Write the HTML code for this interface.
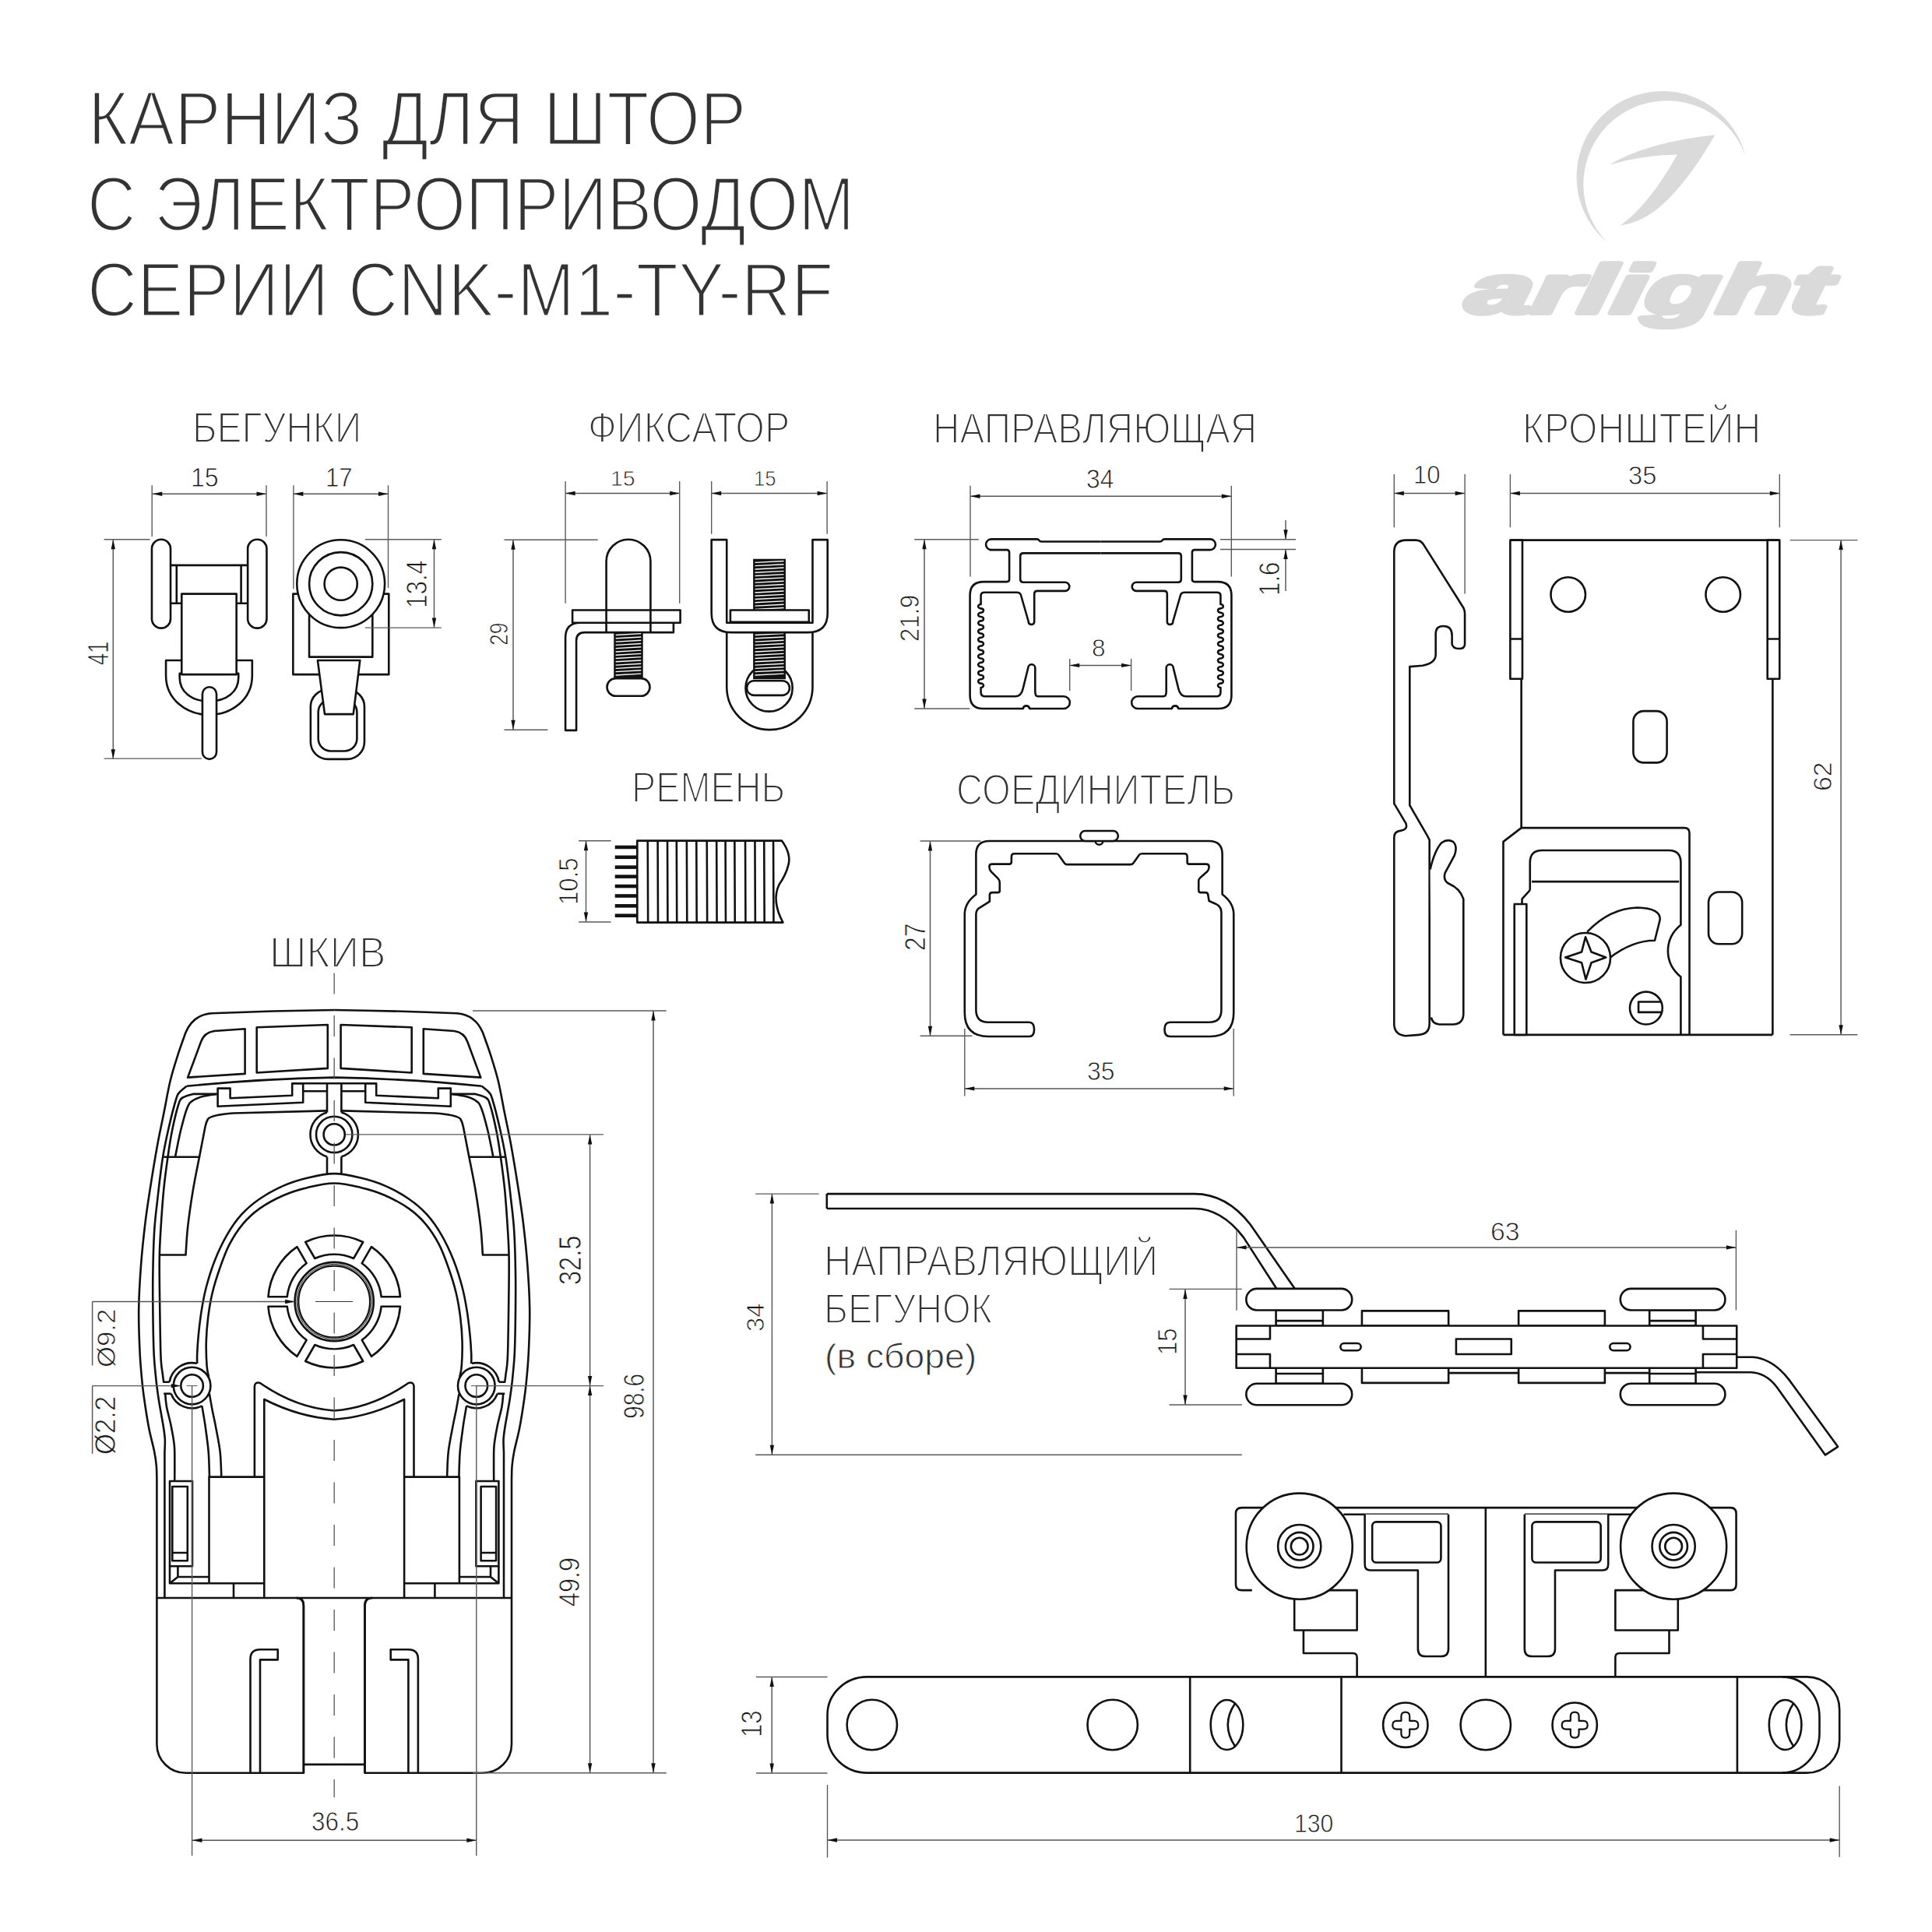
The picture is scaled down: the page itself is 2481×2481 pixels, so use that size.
<!DOCTYPE html>
<html><head><meta charset="utf-8"><title>CNK-M1-TY-RF</title>
<style>html,body{margin:0;padding:0;background:#fff;overflow:hidden;} svg{display:block;}</style></head>
<body><svg width="2481" height="2481" viewBox="0 0 2481 2481" font-family="Liberation Sans, sans-serif">
<rect width="2481" height="2481" fill="#fff"/>
<g transform="translate(100 500) scale(0.258770)">
<path stroke="#111" stroke-width="2.6" fill="none" stroke-linejoin="round" vector-effect="non-scaling-stroke" d="M460,873 L843,873 M460,1062 L515,1062 M787,1062 L843,1062 M490,873 L490,1062 M810,873 L810,1062"/>
<rect stroke="#111" stroke-width="2.6" fill="#fff" stroke-linejoin="round" vector-effect="non-scaling-stroke" x="367" y="745" width="93" height="440" rx="46"/>
<rect stroke="#111" stroke-width="2.6" fill="#fff" stroke-linejoin="round" vector-effect="non-scaling-stroke" x="843" y="745" width="94" height="440" rx="46"/>
<path stroke="#111" stroke-width="2.6" fill="#fff" stroke-linejoin="round" vector-effect="non-scaling-stroke" d="M515,1345 L437,1345 L437,1420 C437,1540 540,1615 651,1615 C762,1615 865,1540 865,1420 L865,1345 L787,1345 Z"/>
<path stroke="#111" stroke-width="2.6" fill="#fff" stroke-linejoin="round" vector-effect="non-scaling-stroke" d="M505,1410 L797,1410 L797,1430 C797,1500 740,1548 651,1548 C562,1548 505,1500 505,1430 Z"/>
<rect stroke="#111" stroke-width="2.6" fill="#fff" stroke-linejoin="round" vector-effect="non-scaling-stroke" x="515" y="1015" width="272" height="400"/>
<rect stroke="#111" stroke-width="2.6" fill="#fff" stroke-linejoin="round" vector-effect="non-scaling-stroke" x="618" y="1477" width="70" height="358" rx="35"/>
<rect stroke="#111" stroke-width="2.6" fill="#fff" stroke-linejoin="round" vector-effect="non-scaling-stroke" x="1068" y="1015" width="475" height="400"/>
<rect stroke="#111" stroke-width="2.6" fill="#fff" stroke-linejoin="round" vector-effect="non-scaling-stroke" x="1148" y="1110" width="314" height="218"/>
<circle stroke="#111" stroke-width="2.6" fill="#fff" stroke-linejoin="round" vector-effect="non-scaling-stroke" cx="1305" cy="965" r="218"/>
<circle stroke="#111" stroke-width="2.6" fill="none" stroke-linejoin="round" vector-effect="non-scaling-stroke" cx="1305" cy="965" r="157"/>
<circle stroke="#111" stroke-width="2.6" fill="none" stroke-linejoin="round" vector-effect="non-scaling-stroke" cx="1305" cy="965" r="81.5"/>
<rect stroke="#111" stroke-width="2.6" fill="#fff" stroke-linejoin="round" vector-effect="non-scaling-stroke" x="1155" y="1490" width="267" height="345" rx="85"/>
<rect stroke="#111" stroke-width="2.6" fill="#fff" stroke-linejoin="round" vector-effect="non-scaling-stroke" x="1193" y="1540" width="192" height="255" rx="62"/>
<path stroke="#111" stroke-width="2.6" fill="#fff" stroke-linejoin="round" vector-effect="non-scaling-stroke" d="M1190,1345 L1400,1345 L1367,1612 L1225,1612 Z"/>
</g>
<line x1="195.8" y1="634.3" x2="342" y2="634.3" stroke="#555" stroke-width="1.45"/>
<path d="M195.8,634.3 L208.3,631.6 L208.3,637 Z" fill="#111"/>
<path d="M342,634.3 L329.5,637 L329.5,631.6 Z" fill="#111"/>
<line x1="195.2" y1="623.2" x2="195.2" y2="688.9" stroke="#5a5a5a" stroke-width="1.4"/>
<line x1="342" y1="623.2" x2="342" y2="688.9" stroke="#5a5a5a" stroke-width="1.4"/>
<line x1="376.9" y1="634.3" x2="498.5" y2="634.3" stroke="#555" stroke-width="1.45"/>
<path d="M376.9,634.3 L389.4,631.6 L389.4,637 Z" fill="#111"/>
<path d="M498.5,634.3 L486,637 L486,631.6 Z" fill="#111"/>
<line x1="376.9" y1="623.2" x2="376.9" y2="756.2" stroke="#5a5a5a" stroke-width="1.4"/>
<line x1="498.5" y1="623.2" x2="498.5" y2="754.9" stroke="#5a5a5a" stroke-width="1.4"/>
<line x1="145.3" y1="692.8" x2="145.3" y2="974.8" stroke="#555" stroke-width="1.45"/>
<path d="M145.3,692.8 L148,705.3 L142.6,705.3 Z" fill="#111"/>
<path d="M145.3,974.8 L142.6,962.3 L148,962.3 Z" fill="#111"/>
<line x1="133.6" y1="692.8" x2="192.6" y2="692.8" stroke="#5a5a5a" stroke-width="1.4"/>
<line x1="133.6" y1="974.1" x2="259.1" y2="974.1" stroke="#5a5a5a" stroke-width="1.4"/>
<line x1="557.5" y1="692.8" x2="557.5" y2="806.1" stroke="#555" stroke-width="1.45"/>
<path d="M557.5,692.8 L560.2,705.3 L554.8,705.3 Z" fill="#111"/>
<path d="M557.5,806.1 L554.8,793.6 L560.2,793.6 Z" fill="#111"/>
<line x1="468.8" y1="692.8" x2="566.8" y2="692.8" stroke="#5a5a5a" stroke-width="1.4"/>
<line x1="468.8" y1="806.1" x2="566.8" y2="806.1" stroke="#5a5a5a" stroke-width="1.4"/>
<g transform="translate(500 500) scale(0.310559)">
<path stroke="#111" stroke-width="2.6" fill="#fff" stroke-linejoin="round" vector-effect="non-scaling-stroke" d="M728,1410 L773,1410 L773,1040 Q773,1005 808,1005 L1175,1005 L1175,965 L790,965 Q728,965 728,1027 Z"/>
<rect stroke="#111" stroke-width="2.6" fill="#fff" stroke-linejoin="round" vector-effect="non-scaling-stroke" x="757" y="913" width="446" height="52"/>
<path stroke="#111" stroke-width="2.6" fill="none" stroke-linejoin="round" vector-effect="non-scaling-stroke" d="M897,1005 L897,712 A91.5,91.5 0 0 1 1080,712 L1080,1005"/>
<rect stroke="#111" stroke-width="2.4" fill="#111" vector-effect="non-scaling-stroke" x="932" y="1005" width="113" height="190"/>
<path d="M936,1016.0 L1041,1010.0 M936,1029.8 L1041,1023.8 M936,1043.6 L1041,1037.6 M936,1057.4 L1041,1051.4 M936,1071.2 L1041,1065.2 M936,1085.0 L1041,1079.0 M936,1098.8 L1041,1092.8 M936,1112.6 L1041,1106.6 M936,1126.4 L1041,1120.4 M936,1140.2 L1041,1134.2 M936,1154.0 L1041,1148.0 M936,1167.8 L1041,1161.8 M936,1181.6 L1041,1175.6 " stroke="#fff" stroke-width="1.4" vector-effect="non-scaling-stroke" fill="none"/>
<rect stroke="#111" stroke-width="2.6" fill="#fff" stroke-linejoin="round" vector-effect="non-scaling-stroke" x="900" y="1195" width="177" height="73" rx="36"/>
<path stroke="#111" stroke-width="2.6" fill="#fff" stroke-linejoin="round" vector-effect="non-scaling-stroke" d="M1395,1005 L1395,1230 A177.5,177.5 0 0 0 1750,1230 L1750,1005"/>
<circle stroke="#111" stroke-width="2.6" fill="#fff" stroke-linejoin="round" vector-effect="non-scaling-stroke" cx="1570" cy="1235" r="97"/>
<rect stroke="#111" stroke-width="2.4" fill="#111" vector-effect="non-scaling-stroke" x="1508" y="1005" width="127" height="190"/>
<path d="M1512,1016.0 L1631,1010.0 M1512,1029.8 L1631,1023.8 M1512,1043.6 L1631,1037.6 M1512,1057.4 L1631,1051.4 M1512,1071.2 L1631,1065.2 M1512,1085.0 L1631,1079.0 M1512,1098.8 L1631,1092.8 M1512,1112.6 L1631,1106.6 M1512,1126.4 L1631,1120.4 M1512,1140.2 L1631,1134.2 M1512,1154.0 L1631,1148.0 M1512,1167.8 L1631,1161.8 M1512,1181.6 L1631,1175.6 " stroke="#fff" stroke-width="1.4" vector-effect="non-scaling-stroke" fill="none"/>
<rect stroke="#111" stroke-width="2.6" fill="#fff" stroke-linejoin="round" vector-effect="non-scaling-stroke" x="1478" y="1205" width="177" height="60" rx="30"/>
<path stroke="#111" stroke-width="2.6" fill="#fff" stroke-linejoin="round" vector-effect="non-scaling-stroke" d="M1332,622 L1395,622 L1395,965 L1750,965 L1750,622 L1812,622 L1812,925 Q1812,1005 1732,1005 L1412,1005 Q1332,1005 1332,925 Z"/>
<rect stroke="#111" stroke-width="2.4" fill="#111" vector-effect="non-scaling-stroke" x="1508" y="705" width="127" height="208"/>
<path d="M1512,716.0 L1631,710.0 M1512,729.8 L1631,723.8 M1512,743.6 L1631,737.6 M1512,757.4 L1631,751.4 M1512,771.2 L1631,765.2 M1512,785.0 L1631,779.0 M1512,798.8 L1631,792.8 M1512,812.6 L1631,806.6 M1512,826.4 L1631,820.4 M1512,840.2 L1631,834.2 M1512,854.0 L1631,848.0 M1512,867.8 L1631,861.8 M1512,881.6 L1631,875.6 M1512,895.4 L1631,889.4 M1512,909.2 L1631,903.2 " stroke="#fff" stroke-width="1.4" vector-effect="non-scaling-stroke" fill="none"/>
<rect stroke="#111" stroke-width="2.6" fill="#fff" stroke-linejoin="round" vector-effect="non-scaling-stroke" x="1410" y="913" width="325" height="49"/>
</g>
<line x1="726.1" y1="633.5" x2="872.7" y2="633.5" stroke="#555" stroke-width="1.45"/>
<path d="M726.1,633.5 L738.6,630.8 L738.6,636.2 Z" fill="#111"/>
<path d="M872.7,633.5 L860.2,636.2 L860.2,630.8 Z" fill="#111"/>
<line x1="726.1" y1="618" x2="726.1" y2="774.8" stroke="#5a5a5a" stroke-width="1.4"/>
<line x1="872.7" y1="618" x2="872.7" y2="774.8" stroke="#5a5a5a" stroke-width="1.4"/>
<line x1="913.7" y1="633.5" x2="1062.1" y2="633.5" stroke="#555" stroke-width="1.45"/>
<path d="M913.7,633.5 L926.2,630.8 L926.2,636.2 Z" fill="#111"/>
<path d="M1062.1,633.5 L1049.6,636.2 L1049.6,630.8 Z" fill="#111"/>
<line x1="913.7" y1="618" x2="913.7" y2="685.7" stroke="#5a5a5a" stroke-width="1.4"/>
<line x1="1062.1" y1="618" x2="1062.1" y2="685.7" stroke="#5a5a5a" stroke-width="1.4"/>
<line x1="659" y1="693.2" x2="659" y2="937.3" stroke="#555" stroke-width="1.45"/>
<path d="M659,693.2 L661.7,705.7 L656.3,705.7 Z" fill="#111"/>
<path d="M659,937.3 L656.3,924.8 L661.7,924.8 Z" fill="#111"/>
<line x1="647.5" y1="693.2" x2="767.7" y2="693.2" stroke="#5a5a5a" stroke-width="1.4"/>
<line x1="647.5" y1="937.3" x2="703.4" y2="937.3" stroke="#5a5a5a" stroke-width="1.4"/>
<path stroke="#111" stroke-width="2.6" fill="none" stroke-linejoin="round" d="M1413.5,695.5 L1337.5,695.5 Q1335.5,695.5 1334.5,694 Q1333.5,692.4 1331.5,692.4 L1272.9,692.4 A6.85,6.85 0 0 0 1272.9,706.1 L1293,706.1 Q1296.1,706.1 1296.1,709.5 L1296.1,744 Q1296.1,747.1 1293,747.1 L1263,747.1 Q1245.6,747.1 1245.6,764.5 L1245.6,893 Q1245.6,910 1262.6,910 L1313.7,910 A4.3,4.3 0 0 1 1322.2,910 L1366,910 A7.85,7.85 0 0 0 1366,894.3 L1333,894.3 Q1329.3,894.3 1329.3,888 L1329.3,858 A4.5,4.5 0 0 0 1320.3,857.5 L1313.7,884.3 Q1311.5,894.3 1303.7,894.3 L1265,894.3 Q1259.6,894.3 1259.6,889 L1259.6,883 a3.4,2.67 0 0 0 0,-5.35 a3.4,2.67 0 0 1 0,-5.35 a3.4,2.67 0 0 0 0,-5.35 a3.4,2.67 0 0 1 0,-5.35 a3.4,2.67 0 0 0 0,-5.35 a3.4,2.67 0 0 1 0,-5.35 a3.4,2.67 0 0 0 0,-5.35 a3.4,2.67 0 0 1 0,-5.35 a3.4,2.67 0 0 0 0,-5.35 a3.4,2.67 0 0 1 0,-5.35 a3.4,2.67 0 0 0 0,-5.35 a3.4,2.67 0 0 1 0,-5.35 a3.4,2.67 0 0 0 0,-5.35 a3.4,2.67 0 0 1 0,-5.35 a3.4,2.67 0 0 0 0,-5.35 a3.4,2.67 0 0 1 0,-5.35 a3.4,2.67 0 0 0 0,-5.35 a3.4,2.67 0 0 1 0,-5.35 a3.4,2.67 0 0 0 0,-5.35 a3.4,2.67 0 0 1 0,-5.35 L1259.6,765 Q1259.6,760.7 1264,760.7 L1306,760.7 Q1309.5,760.7 1310.8,763.5 L1320.7,798 A3.8,3.8 0 0 0 1328.2,799 L1328.2,763 Q1328.2,758.9 1332,758.9 L1367.7,758.9 A5.6,5.6 0 0 0 1367.7,747.7 L1314,747.7 Q1310.2,747.7 1310.2,744 L1310.2,714 Q1310.2,710.4 1314,710.4 L1413.5,710.4"/>
<path stroke="#111" stroke-width="2.6" fill="none" stroke-linejoin="round" transform="matrix(-1 0 0 1 2827 0)" d="M1413.5,695.5 L1337.5,695.5 Q1335.5,695.5 1334.5,694 Q1333.5,692.4 1331.5,692.4 L1272.9,692.4 A6.85,6.85 0 0 0 1272.9,706.1 L1293,706.1 Q1296.1,706.1 1296.1,709.5 L1296.1,744 Q1296.1,747.1 1293,747.1 L1263,747.1 Q1245.6,747.1 1245.6,764.5 L1245.6,893 Q1245.6,910 1262.6,910 L1313.7,910 A4.3,4.3 0 0 1 1322.2,910 L1366,910 A7.85,7.85 0 0 0 1366,894.3 L1333,894.3 Q1329.3,894.3 1329.3,888 L1329.3,858 A4.5,4.5 0 0 0 1320.3,857.5 L1313.7,884.3 Q1311.5,894.3 1303.7,894.3 L1265,894.3 Q1259.6,894.3 1259.6,889 L1259.6,883 a3.4,2.67 0 0 0 0,-5.35 a3.4,2.67 0 0 1 0,-5.35 a3.4,2.67 0 0 0 0,-5.35 a3.4,2.67 0 0 1 0,-5.35 a3.4,2.67 0 0 0 0,-5.35 a3.4,2.67 0 0 1 0,-5.35 a3.4,2.67 0 0 0 0,-5.35 a3.4,2.67 0 0 1 0,-5.35 a3.4,2.67 0 0 0 0,-5.35 a3.4,2.67 0 0 1 0,-5.35 a3.4,2.67 0 0 0 0,-5.35 a3.4,2.67 0 0 1 0,-5.35 a3.4,2.67 0 0 0 0,-5.35 a3.4,2.67 0 0 1 0,-5.35 a3.4,2.67 0 0 0 0,-5.35 a3.4,2.67 0 0 1 0,-5.35 a3.4,2.67 0 0 0 0,-5.35 a3.4,2.67 0 0 1 0,-5.35 a3.4,2.67 0 0 0 0,-5.35 a3.4,2.67 0 0 1 0,-5.35 L1259.6,765 Q1259.6,760.7 1264,760.7 L1306,760.7 Q1309.5,760.7 1310.8,763.5 L1320.7,798 A3.8,3.8 0 0 0 1328.2,799 L1328.2,763 Q1328.2,758.9 1332,758.9 L1367.7,758.9 A5.6,5.6 0 0 0 1367.7,747.7 L1314,747.7 Q1310.2,747.7 1310.2,744 L1310.2,714 Q1310.2,710.4 1314,710.4 L1413.5,710.4"/>
<line x1="1246" y1="637.2" x2="1581.3" y2="637.2" stroke="#555" stroke-width="1.45"/>
<path d="M1246,637.2 L1258.5,634.5 L1258.5,639.9 Z" fill="#111"/>
<path d="M1581.3,637.2 L1568.8,639.9 L1568.8,634.5 Z" fill="#111"/>
<line x1="1246" y1="623.8" x2="1246" y2="740.6" stroke="#5a5a5a" stroke-width="1.4"/>
<line x1="1581.3" y1="623.8" x2="1581.3" y2="740.6" stroke="#5a5a5a" stroke-width="1.4"/>
<line x1="1187" y1="692.7" x2="1187" y2="910" stroke="#555" stroke-width="1.45"/>
<path d="M1187,692.7 L1189.7,705.2 L1184.3,705.2 Z" fill="#111"/>
<path d="M1187,910 L1184.3,897.5 L1189.7,897.5 Z" fill="#111"/>
<line x1="1174.2" y1="692.7" x2="1256.8" y2="692.7" stroke="#5a5a5a" stroke-width="1.4"/>
<line x1="1174.2" y1="910" x2="1245.4" y2="910" stroke="#5a5a5a" stroke-width="1.4"/>
<line x1="1651" y1="668" x2="1651" y2="692.7" stroke="#555" stroke-width="1.45"/>
<path d="M1651,692.7 L1648.3,680.2 L1653.7,680.2 Z" fill="#111"/>
<line x1="1651" y1="705.5" x2="1651" y2="759" stroke="#555" stroke-width="1.45"/>
<path d="M1651,705.5 L1653.7,718 L1648.3,718 Z" fill="#111"/>
<line x1="1567" y1="692.7" x2="1664" y2="692.7" stroke="#5a5a5a" stroke-width="1.4"/>
<line x1="1567" y1="705.5" x2="1664" y2="705.5" stroke="#5a5a5a" stroke-width="1.4"/>
<line x1="1373.7" y1="854.4" x2="1452.6" y2="854.4" stroke="#555" stroke-width="1.45"/>
<path d="M1373.7,854.4 L1386.2,851.7 L1386.2,857.1 Z" fill="#111"/>
<path d="M1452.6,854.4 L1440.1,857.1 L1440.1,851.7 Z" fill="#111"/>
<line x1="1373.7" y1="846" x2="1373.7" y2="887" stroke="#5a5a5a" stroke-width="1.4"/>
<line x1="1452.6" y1="846" x2="1452.6" y2="887" stroke="#5a5a5a" stroke-width="1.4"/>
<g transform="translate(1760 500) scale(0.445135)">
<path stroke="#111" stroke-width="2.6" fill="#fff" stroke-linejoin="round" vector-effect="non-scaling-stroke" d="M68,470 Q68,435 103,435 L130,435 Q145,435 153,448 L268,630 Q272,638 272,648 L272,735 Q272,748 255,748 Q238,748 235,735 L235,710 Q235,683 210,683 Q188,683 188,705 L188,765 Q188,790 150,797 L113,800 L113,1200 L165,1290 L170,1300 L170,1830 Q170,1860 140,1862 L100,1865 Q68,1862 68,1830 L68,1292 Q68,1275 88,1273 Q108,1270 102,1252 L68,1195 Z"/>
<path stroke="#111" stroke-width="2.6" fill="#fff" stroke-linejoin="round" vector-effect="non-scaling-stroke" d="M172,1385 Q185,1330 205,1308 Q222,1296 238,1305 Q252,1318 242,1345 L215,1395 Q208,1418 228,1427 Q258,1440 268,1470 L268,1800 Q268,1830 240,1832 L198,1832 Q178,1830 175,1812"/>
<path stroke="#111" stroke-width="2.6" fill="none" stroke-linejoin="round" vector-effect="non-scaling-stroke" d="M403,435 L1180,435 M1160,835 L1160,1862 M435,835 L435,1265"/>
<rect stroke="#111" stroke-width="2.6" fill="#fff" stroke-linejoin="round" vector-effect="non-scaling-stroke" x="403" y="435" width="35" height="400"/>
<rect stroke="#111" stroke-width="2.6" fill="#fff" stroke-linejoin="round" vector-effect="non-scaling-stroke" x="1145" y="435" width="35" height="400"/>
<path stroke="#111" stroke-width="2.6" fill="none" stroke-linejoin="round" vector-effect="non-scaling-stroke" d="M403,720 L438,720 M1145,720 L1180,720"/>
<circle stroke="#111" stroke-width="2.6" fill="none" stroke-linejoin="round" vector-effect="non-scaling-stroke" cx="570" cy="592" r="50"/>
<circle stroke="#111" stroke-width="2.6" fill="none" stroke-linejoin="round" vector-effect="non-scaling-stroke" cx="1017" cy="592" r="50"/>
<rect stroke="#111" stroke-width="2.6" fill="none" stroke-linejoin="round" vector-effect="non-scaling-stroke" x="758" y="928" width="97" height="149" rx="30"/>
<rect stroke="#111" stroke-width="2.6" fill="none" stroke-linejoin="round" vector-effect="non-scaling-stroke" x="975" y="1450" width="97" height="150" rx="30"/>
<path stroke="#111" stroke-width="2.6" fill="none" stroke-linejoin="round" vector-effect="non-scaling-stroke" d="M383,1862 L383,1305 L435,1265 L905,1265 Q920,1265 920,1280 L920,1862 M383,1862 L1160,1862"/>
<path stroke="#111" stroke-width="2.6" fill="none" stroke-linejoin="round" vector-effect="non-scaling-stroke" d="M460,1445 L460,1365 Q460,1330 495,1330 L860,1330 Q895,1330 895,1365 L895,1545 Q858,1575 858,1620 Q858,1665 895,1695 L895,1862"/>
<path stroke="#111" stroke-width="2.6" fill="none" stroke-linejoin="round" vector-effect="non-scaling-stroke" d="M465,1420 L890,1420 M460,1445 L437,1470 L437,1485"/>
<rect stroke="#111" stroke-width="2.6" fill="#fff" stroke-linejoin="round" vector-effect="non-scaling-stroke" x="415" y="1485" width="35" height="377"/>
<path stroke="#111" stroke-width="2.6" fill="#fff" stroke-linejoin="round" vector-effect="non-scaling-stroke" d="M625,1565 Q690,1497 770,1495 Q838,1497 835,1530 L820,1590 Q755,1590 690,1640"/>
<circle stroke="#111" stroke-width="2.6" fill="#fff" stroke-linejoin="round" vector-effect="non-scaling-stroke" cx="620" cy="1640" r="72"/>
<path stroke="#111" stroke-width="2.6" fill="none" stroke-linejoin="round" vector-effect="non-scaling-stroke" d="M620,1580 L637,1623 L679,1639 L637,1654 L621,1702 L609,1654 L562,1639 L609,1623 Z"/>
<circle stroke="#111" stroke-width="2.6" fill="none" stroke-linejoin="round" vector-effect="non-scaling-stroke" cx="795" cy="1785" r="47"/>
<path stroke="#111" stroke-width="2.6" fill="none" stroke-linejoin="round" vector-effect="non-scaling-stroke" d="M838,1767 L773,1767 L773,1797 L838,1797"/>
</g>
<line x1="1790.3" y1="633.5" x2="1881.1" y2="633.5" stroke="#555" stroke-width="1.45"/>
<path d="M1790.3,633.5 L1802.8,630.8 L1802.8,636.2 Z" fill="#111"/>
<path d="M1881.1,633.5 L1868.6,636.2 L1868.6,630.8 Z" fill="#111"/>
<line x1="1790.3" y1="609" x2="1790.3" y2="677.2" stroke="#5a5a5a" stroke-width="1.4"/>
<line x1="1881.1" y1="609" x2="1881.1" y2="762.6" stroke="#5a5a5a" stroke-width="1.4"/>
<line x1="1939.4" y1="633.5" x2="2285.3" y2="633.5" stroke="#555" stroke-width="1.45"/>
<path d="M1939.4,633.5 L1951.9,630.8 L1951.9,636.2 Z" fill="#111"/>
<path d="M2285.3,633.5 L2272.8,636.2 L2272.8,630.8 Z" fill="#111"/>
<line x1="1939.4" y1="609" x2="1939.4" y2="677.2" stroke="#5a5a5a" stroke-width="1.4"/>
<line x1="2285.3" y1="609" x2="2285.3" y2="677.2" stroke="#5a5a5a" stroke-width="1.4"/>
<line x1="2364.1" y1="693.6" x2="2364.1" y2="1328.8" stroke="#555" stroke-width="1.45"/>
<path d="M2364.1,693.6 L2366.8,706.1 L2361.4,706.1 Z" fill="#111"/>
<path d="M2364.1,1328.8 L2361.4,1316.3 L2366.8,1316.3 Z" fill="#111"/>
<line x1="2298.6" y1="693.6" x2="2385.4" y2="693.6" stroke="#5a5a5a" stroke-width="1.4"/>
<line x1="2298.6" y1="1328.8" x2="2385.4" y2="1328.8" stroke="#5a5a5a" stroke-width="1.4"/>
<g transform="translate(680 960) scale(0.207039)">
<path stroke="#111" stroke-width="2.6" fill="none" stroke-linejoin="round" vector-effect="non-scaling-stroke" d="M668,578 L1565,578 Q1625,660 1605,730 Q1590,790 1548,850 Q1500,950 1572,1085 L668,1085 Z"/>
<path stroke="#111" stroke-width="2.6" fill="none" stroke-linejoin="round" vector-effect="non-scaling-stroke" d="M733,578 L735,1085 M795,578 L797,1085 M855,578 L857,1085 M912,578 L914,1085 M975,578 L977,1085 M1035,578 L1037,1085 M1100,578 L1102,1085 M1160,578 L1162,1085 M1215,578 L1217,1085 M1272,578 L1274,1085 M1338,578 L1340,1085 M1398,578 L1400,1085 M1455,578 L1457,1085 M1512,578 L1514,1085"/>
<rect x="530" y="607" width="138" height="22" fill="#111"/>
<rect x="530" y="669" width="138" height="22" fill="#111"/>
<rect x="530" y="731" width="138" height="22" fill="#111"/>
<rect x="530" y="789" width="138" height="22" fill="#111"/>
<rect x="530" y="849" width="138" height="22" fill="#111"/>
<rect x="530" y="909" width="138" height="22" fill="#111"/>
<rect x="530" y="971" width="138" height="22" fill="#111"/>
<rect x="530" y="1031" width="138" height="22" fill="#111"/>
</g>
<line x1="752.5" y1="1079.7" x2="752.5" y2="1184" stroke="#555" stroke-width="1.45"/>
<path d="M752.5,1079.7 L755.2,1092.2 L749.8,1092.2 Z" fill="#111"/>
<path d="M752.5,1184 L749.8,1171.5 L755.2,1171.5 Z" fill="#111"/>
<line x1="743.1" y1="1079.7" x2="784.6" y2="1079.7" stroke="#5a5a5a" stroke-width="1.4"/>
<line x1="743.1" y1="1184" x2="784.6" y2="1184" stroke="#5a5a5a" stroke-width="1.4"/>
<g transform="translate(1150 960) scale(0.243271)">
<path stroke="#111" stroke-width="2.6" fill="none" stroke-linejoin="round" vector-effect="non-scaling-stroke" d="M495,493 L1655,493 Q1725,493 1725,563 L1725,775 Q1785,820 1785,880 L1785,1400 Q1785,1525 1660,1525 L1450,1525 Q1420,1525 1420,1488 Q1420,1450 1450,1450 L1655,1450 Q1720,1450 1720,1385 L1720,870 Q1720,840 1690,825 L1655,810 L1650,780 Q1650,765 1635,765 L1610,765 Q1600,765 1600,750 L1600,705 Q1600,695 1610,685 L1645,655 Q1655,645 1655,630 Q1655,615 1640,615 L1550,615 Q1540,615 1540,605 L1540,575 Q1540,560 1525,560 L1300,560 Q1290,560 1285,568 L1255,610 Q1250,617 1240,617 L905,617 Q897,617 892,610 L862,568 Q857,560 847,560 L627,560 Q612,560 612,575 L612,603 Q612,615 600,615 L508,615 Q495,615 495,630 Q495,645 505,655 L540,690 Q550,700 550,712 L550,755 Q550,765 540,765 L510,765 Q497,765 497,778 L497,812 L440,848 Q425,860 425,880 L425,1385 Q425,1450 490,1450 L705,1450 Q732,1450 732,1488 Q732,1525 705,1525 L490,1525 Q365,1525 365,1400 L365,880 Q365,820 425,775 L425,563 Q425,493 495,493 Z"/>
<path stroke="#111" stroke-width="2.6" fill="#fff" stroke-linejoin="round" vector-effect="non-scaling-stroke" d="M1055,493 A20,20 0 0 0 1095,493"/>
<rect stroke="#111" stroke-width="2.6" fill="#fff" stroke-linejoin="round" vector-effect="non-scaling-stroke" x="975" y="440" width="200" height="53" rx="26"/>
</g>
<line x1="1194.5" y1="1080" x2="1194.5" y2="1330.3" stroke="#555" stroke-width="1.45"/>
<path d="M1194.5,1080 L1197.2,1092.5 L1191.8,1092.5 Z" fill="#111"/>
<path d="M1194.5,1330.3 L1191.8,1317.8 L1197.2,1317.8 Z" fill="#111"/>
<line x1="1181.6" y1="1080" x2="1259.5" y2="1080" stroke="#5a5a5a" stroke-width="1.4"/>
<line x1="1181.6" y1="1330.3" x2="1248.5" y2="1330.3" stroke="#5a5a5a" stroke-width="1.4"/>
<line x1="1238.8" y1="1397.9" x2="1584.2" y2="1397.9" stroke="#555" stroke-width="1.45"/>
<path d="M1238.8,1397.9 L1251.3,1395.2 L1251.3,1400.6 Z" fill="#111"/>
<path d="M1584.2,1397.9 L1571.7,1400.6 L1571.7,1395.2 Z" fill="#111"/>
<line x1="1238.8" y1="1321" x2="1238.8" y2="1407.6" stroke="#5a5a5a" stroke-width="1.4"/>
<line x1="1584.2" y1="1321" x2="1584.2" y2="1407.6" stroke="#5a5a5a" stroke-width="1.4"/>
<path stroke="#111" stroke-width="2.6" fill="none" stroke-linejoin="round" d="M429.2,1297 Q350,1298 271.8,1301.2 Q248,1303 238.3,1326.3  C236.67,1330.97 231.77,1344.05 228.5,1354.3 C225.23,1364.55 221.73,1375.22 218.7,1387.8 C215.67,1400.38 213.1,1415.82 210.3,1429.8 C207.5,1443.78 204.7,1456.33 201.9,1471.7 C199.1,1487.07 196.05,1505.7 193.5,1522 C190.95,1538.3 188.68,1552.27 186.6,1569.5 C184.52,1586.73 182.4,1606.77 181,1625.4 C179.6,1644.03 178.43,1662.67 178.2,1681.3 C177.97,1699.93 178.83,1721.2 179.6,1737.2 C180.37,1753.2 181.63,1765.8 182.8,1777.3 C183.97,1788.8 185.15,1796.55 186.6,1806.2 C188.05,1815.85 189.57,1825.53 191.5,1835.2 C193.43,1844.87 196.65,1856.4 198.2,1864.2 C199.75,1872 200.27,1876.03 200.8,1882 C201.33,1887.97 201.3,1897 201.4,1900 L201.4,2240 A37,37 0 0 0 238.4,2276.8 L389.9,2276.8 L389.9,2062 Q389.9,2052 381.6,2052"/>
<path stroke="#111" stroke-width="2.6" fill="none" stroke-linejoin="round" transform="matrix(-1 0 0 1 858.4 0)" d="M429.2,1297 Q350,1298 271.8,1301.2 Q248,1303 238.3,1326.3  C236.67,1330.97 231.77,1344.05 228.5,1354.3 C225.23,1364.55 221.73,1375.22 218.7,1387.8 C215.67,1400.38 213.1,1415.82 210.3,1429.8 C207.5,1443.78 204.7,1456.33 201.9,1471.7 C199.1,1487.07 196.05,1505.7 193.5,1522 C190.95,1538.3 188.68,1552.27 186.6,1569.5 C184.52,1586.73 182.4,1606.77 181,1625.4 C179.6,1644.03 178.43,1662.67 178.2,1681.3 C177.97,1699.93 178.83,1721.2 179.6,1737.2 C180.37,1753.2 181.63,1765.8 182.8,1777.3 C183.97,1788.8 185.15,1796.55 186.6,1806.2 C188.05,1815.85 189.57,1825.53 191.5,1835.2 C193.43,1844.87 196.65,1856.4 198.2,1864.2 C199.75,1872 200.27,1876.03 200.8,1882 C201.33,1887.97 201.3,1897 201.4,1900 L201.4,2240 A37,37 0 0 0 238.4,2276.8 L389.9,2276.8 L389.9,2062 Q389.9,2052 381.6,2052"/>
<path stroke="#111" stroke-width="2.6" fill="none" stroke-linejoin="round" d="M389.9,2265.9 L468.5,2265.9 M201.4,2052 L657,2052"/>
<path stroke="#111" stroke-width="2.6" fill="none" stroke-linejoin="round" d="M241.1,1383.6 L258,1338 Q262,1326 275,1324 L314.6,1321.3 L314.6,1378.9 Z"/>
<path stroke="#111" stroke-width="2.6" fill="none" stroke-linejoin="round" transform="matrix(-1 0 0 1 858.4 0)" d="M241.1,1383.6 L258,1338 Q262,1326 275,1324 L314.6,1321.3 L314.6,1378.9 Z"/>
<path stroke="#111" stroke-width="2.6" fill="none" stroke-linejoin="round" d="M329.7,1319.3 L420.8,1316 L420.8,1371.9 L329.7,1377.5 Z"/>
<path stroke="#111" stroke-width="2.6" fill="none" stroke-linejoin="round" transform="matrix(-1 0 0 1 858.4 0)" d="M329.7,1319.3 L420.8,1316 L420.8,1371.9 L329.7,1377.5 Z"/>
<path stroke="#111" stroke-width="2.6" fill="none" stroke-linejoin="round" d="M239.8,1394.8 Q330,1385.5 429.2,1383.6 Q528.4,1385.5 618.6,1394.8"/>
<path stroke="#111" stroke-width="2.6" fill="none" stroke-linejoin="round" d="M239.8,1394.8 C238.23,1396.15 232.65,1400.2 230.4,1402.9 C228.15,1405.6 228.55,1403.6 226.3,1411 C224.05,1418.4 219.82,1434.52 216.9,1447.3 C213.98,1460.08 211.27,1472 208.8,1487.7 C206.33,1503.4 203.88,1525.8 202.1,1541.5 C200.32,1557.2 199.07,1565.48 198.1,1581.9 C197.13,1598.32 196.55,1620.32 196.3,1640 C196.05,1659.68 196.37,1683.33 196.6,1700 C196.83,1716.67 197.03,1727.82 197.7,1740 C198.37,1752.18 199.57,1763.43 200.6,1773.1 C201.63,1782.77 202.42,1788.52 203.9,1798 C205.38,1807.48 208.18,1821.67 209.5,1830 C210.82,1838.33 211.48,1842.17 211.8,1848 C212.12,1853.83 211.47,1862.17 211.4,1865 L211.4,2052"/>
<path stroke="#111" stroke-width="2.6" fill="none" stroke-linejoin="round" transform="matrix(-1 0 0 1 858.4 0)" d="M239.8,1394.8 C238.23,1396.15 232.65,1400.2 230.4,1402.9 C228.15,1405.6 228.55,1403.6 226.3,1411 C224.05,1418.4 219.82,1434.52 216.9,1447.3 C213.98,1460.08 211.27,1472 208.8,1487.7 C206.33,1503.4 203.88,1525.8 202.1,1541.5 C200.32,1557.2 199.07,1565.48 198.1,1581.9 C197.13,1598.32 196.55,1620.32 196.3,1640 C196.05,1659.68 196.37,1683.33 196.6,1700 C196.83,1716.67 197.03,1727.82 197.7,1740 C198.37,1752.18 199.57,1763.43 200.6,1773.1 C201.63,1782.77 202.42,1788.52 203.9,1798 C205.38,1807.48 208.18,1821.67 209.5,1830 C210.82,1838.33 211.48,1842.17 211.8,1848 C212.12,1853.83 211.47,1862.17 211.4,1865 L211.4,2052"/>
<path stroke="#111" stroke-width="2.6" fill="none" stroke-linejoin="round" d="M278.8,1404.9 L247.9,1404.9  C245.65,1405.68 237.55,1407.25 234.4,1409.6 C231.25,1411.95 231.23,1411.93 229,1419 C226.77,1426.07 223.23,1441 221,1452 C218.77,1463 217.4,1472.32 215.6,1485 C213.8,1497.68 211.77,1511.95 210.2,1528.1 C208.63,1544.25 207.1,1567.42 206.2,1581.9 C205.3,1596.38 205,1601.98 204.8,1615 C204.6,1628.02 204.73,1639.17 205,1660 C205.27,1680.83 205.75,1722.53 206.4,1740 C207.05,1757.47 208.27,1759 208.9,1764.8 C209.53,1770.6 209.98,1773.13 210.2,1774.8 L217.6,1774.8"/>
<path stroke="#111" stroke-width="2.6" fill="none" stroke-linejoin="round" transform="matrix(-1 0 0 1 858.4 0)" d="M278.8,1404.9 L247.9,1404.9  C245.65,1405.68 237.55,1407.25 234.4,1409.6 C231.25,1411.95 231.23,1411.93 229,1419 C226.77,1426.07 223.23,1441 221,1452 C218.77,1463 217.4,1472.32 215.6,1485 C213.8,1497.68 211.77,1511.95 210.2,1528.1 C208.63,1544.25 207.1,1567.42 206.2,1581.9 C205.3,1596.38 205,1601.98 204.8,1615 C204.6,1628.02 204.73,1639.17 205,1660 C205.27,1680.83 205.75,1722.53 206.4,1740 C207.05,1757.47 208.27,1759 208.9,1764.8 C209.53,1770.6 209.98,1773.13 210.2,1774.8 L217.6,1774.8"/>
<path stroke="#111" stroke-width="2.6" fill="none" stroke-linejoin="round" d="M278,1405 C275.33,1405.43 267,1406.27 262,1407.6 C257,1408.93 251.58,1410.53 248,1413 C244.42,1415.47 243.17,1415.9 240.5,1422.4 C237.83,1428.9 234.58,1441.45 232,1452 C229.42,1462.55 226.17,1480.08 225,1485.7"/>
<path stroke="#111" stroke-width="2.6" fill="none" stroke-linejoin="round" transform="matrix(-1 0 0 1 858.4 0)" d="M278,1405 C275.33,1405.43 267,1406.27 262,1407.6 C257,1408.93 251.58,1410.53 248,1413 C244.42,1415.47 243.17,1415.9 240.5,1422.4 C237.83,1428.9 234.58,1441.45 232,1452 C229.42,1462.55 226.17,1480.08 225,1485.7"/>
<path stroke="#111" stroke-width="2.6" fill="none" stroke-linejoin="round" d="M210.2,1485.7 L256,1485.7  C254.65,1492.75 250.37,1513.08 247.9,1528 C245.43,1542.92 242.77,1561.28 241.2,1575.2 C239.63,1589.12 238.95,1605.45 238.5,1611.5 L205.5,1611.5"/>
<path stroke="#111" stroke-width="2.6" fill="none" stroke-linejoin="round" transform="matrix(-1 0 0 1 858.4 0)" d="M210.2,1485.7 L256,1485.7  C254.65,1492.75 250.37,1513.08 247.9,1528 C245.43,1542.92 242.77,1561.28 241.2,1575.2 C239.63,1589.12 238.95,1605.45 238.5,1611.5 L205.5,1611.5"/>
<path stroke="#111" stroke-width="2.6" fill="none" stroke-linejoin="round" d="M420,1426.4 L300,1429.5 Q272,1431.5 267,1437 Q264.7,1441 263.5,1447 L256,1485.7"/>
<path stroke="#111" stroke-width="2.6" fill="none" stroke-linejoin="round" transform="matrix(-1 0 0 1 858.4 0)" d="M420,1426.4 L300,1429.5 Q272,1431.5 267,1437 Q264.7,1441 263.5,1447 L256,1485.7"/>
<path stroke="#111" stroke-width="2.6" fill="none" stroke-linejoin="round" d="M279.6,1397.6 L295.6,1397.6 L295.6,1410.2 L375.2,1406.8 L375.2,1391.2 L389.2,1391.2 L389.2,1415.8 L279.6,1420.8 Z"/>
<path stroke="#111" stroke-width="2.6" fill="none" stroke-linejoin="round" transform="matrix(-1 0 0 1 858.4 0)" d="M279.6,1397.6 L295.6,1397.6 L295.6,1410.2 L375.2,1406.8 L375.2,1391.2 L389.2,1391.2 L389.2,1415.8 L279.6,1420.8 Z"/>
<path stroke="#111" stroke-width="2.6" fill="none" stroke-linejoin="round" d="M375.2,1391.2 L483.2,1391.2 M389.2,1401.2 L420,1401.2 M438.4,1401.2 L469.2,1401.2"/>
<path stroke="#111" stroke-width="2.6" fill="none" stroke-linejoin="round" d="M420,1391.2 L420,1428.5 M438.4,1391.2 L438.4,1428.5 M420,1485.5 L420,1507.5 M438.4,1485.5 L438.4,1507.5"/>
<path stroke="#111" stroke-width="2.6" fill="none" stroke-linejoin="round" d="M420,1428.5 A29.5,29.5 0 0 0 420,1485.3 M438.4,1428.5 A29.5,29.5 0 0 1 438.4,1485.3"/>
<circle stroke="#111" stroke-width="2.6" fill="none" stroke-linejoin="round" cx="429.2" cy="1456.9" r="23.2"/>
<circle stroke="#111" stroke-width="2.6" fill="none" stroke-linejoin="round" cx="429.2" cy="1456.9" r="13.6"/>
<path stroke="#111" stroke-width="2.6" fill="none" stroke-linejoin="round" d="M253.2,1750.9 C253.2,1748.82 252.93,1744.35 253.2,1738.4 C253.47,1732.45 253.9,1724.25 254.8,1715.2 C255.7,1706.15 256.93,1694.47 258.6,1684.1 C260.27,1673.73 261.95,1663.87 264.8,1653 C267.65,1642.13 271.3,1630.02 275.7,1618.9 C280.1,1607.78 285.5,1596.13 291.2,1586.3 C296.9,1576.47 302.9,1567.67 309.9,1559.9 C316.9,1552.13 324.15,1545.92 333.2,1539.7 C342.25,1533.48 353.85,1527.13 364.2,1522.6 C374.55,1518.07 384.47,1515.08 395.3,1512.5 C406.13,1509.92 417.9,1507.1 429.2,1507.1 C440.5,1507.1 452.27,1509.92 463.1,1512.5 C473.93,1515.08 483.85,1518.07 494.2,1522.6 C504.55,1527.13 516.15,1533.48 525.2,1539.7 C534.25,1545.92 541.5,1552.13 548.5,1559.9 C555.5,1567.67 561.5,1576.47 567.2,1586.3 C572.9,1596.13 578.3,1607.78 582.7,1618.9 C587.1,1630.02 590.75,1642.13 593.6,1653 C596.45,1663.87 598.13,1673.73 599.8,1684.1 C601.47,1694.47 602.7,1706.15 603.6,1715.2 C604.5,1724.25 604.93,1732.45 605.2,1738.4 C605.47,1744.35 605.2,1748.82 605.2,1750.9"/>
<path stroke="#111" stroke-width="2.6" fill="none" stroke-linejoin="round" d="M268.1,1768.2 C267.68,1765.83 266.15,1761.55 265.6,1754 C265.05,1746.45 264.53,1733.25 264.8,1722.9 C265.07,1712.55 265.9,1702.25 267.2,1691.9 C268.5,1681.55 270.15,1671.15 272.6,1660.8 C275.05,1650.45 278.28,1640.15 281.9,1629.8 C285.52,1619.45 289.38,1608.28 294.3,1598.7 C299.22,1589.12 304.92,1580.07 311.4,1572.3 C317.88,1564.53 324.4,1558.32 333.2,1552.1 C342,1545.88 353.85,1539.53 364.2,1535 C374.55,1530.47 384.47,1527.48 395.3,1524.9 C406.13,1522.32 417.9,1519.5 429.2,1519.5 C440.5,1519.5 452.27,1522.32 463.1,1524.9 C473.93,1527.48 483.85,1530.47 494.2,1535 C504.55,1539.53 516.4,1545.88 525.2,1552.1 C534,1558.32 540.52,1564.53 547,1572.3 C553.48,1580.07 559.18,1589.12 564.1,1598.7 C569.02,1608.28 572.88,1619.45 576.5,1629.8 C580.12,1640.15 583.35,1650.45 585.8,1660.8 C588.25,1671.15 589.9,1681.55 591.2,1691.9 C592.5,1702.25 593.33,1712.55 593.6,1722.9 C593.87,1733.25 593.35,1746.45 592.8,1754 C592.25,1761.55 590.72,1765.83 590.3,1768.2"/>
<path stroke="#111" stroke-width="2.6" fill="none" stroke-linejoin="round" d="M252.8,1750.8 A29.4,29.4 0 0 0 217.6,1774.8"/>
<path stroke="#111" stroke-width="2.6" fill="none" stroke-linejoin="round" transform="matrix(-1 0 0 1 858.4 0)" d="M252.8,1750.8 A29.4,29.4 0 0 0 217.6,1774.8"/>
<path stroke="#111" stroke-width="2.6" fill="none" stroke-linejoin="round" d="M219.7,1789.7 A28.7,28.7 0 0 0 259.4,1805.4"/>
<path stroke="#111" stroke-width="2.6" fill="none" stroke-linejoin="round" transform="matrix(-1 0 0 1 858.4 0)" d="M219.7,1789.7 A28.7,28.7 0 0 0 259.4,1805.4"/>
<path stroke="#111" stroke-width="2.6" fill="none" stroke-linejoin="round" d="M210.2,1789.7 L219.7,1789.7"/>
<path stroke="#111" stroke-width="2.6" fill="none" stroke-linejoin="round" transform="matrix(-1 0 0 1 858.4 0)" d="M210.2,1789.7 L219.7,1789.7"/>
<path stroke="#111" stroke-width="2.6" fill="none" stroke-linejoin="round" d="M259.4,1805.4 C259.75,1807.5 260.8,1813.72 261.5,1818 C262.2,1822.28 262.57,1823.4 263.6,1831.1 C264.63,1838.8 266.8,1853.28 267.7,1864.2 C268.6,1875.12 268.78,1891.2 269,1896.6"/>
<path stroke="#111" stroke-width="2.6" fill="none" stroke-linejoin="round" transform="matrix(-1 0 0 1 858.4 0)" d="M259.4,1805.4 C259.75,1807.5 260.8,1813.72 261.5,1818 C262.2,1822.28 262.57,1823.4 263.6,1831.1 C264.63,1838.8 266.8,1853.28 267.7,1864.2 C268.6,1875.12 268.78,1891.2 269,1896.6"/>
<path stroke="#111" stroke-width="2.6" fill="none" stroke-linejoin="round" d="M268.9,1789.7 C269.5,1793.08 271.18,1803.1 272.5,1810 C273.82,1816.9 275.12,1822.07 276.8,1831.1 C278.48,1840.13 281.35,1853.28 282.6,1864.2 C283.85,1875.12 284.02,1891.2 284.3,1896.6"/>
<path stroke="#111" stroke-width="2.6" fill="none" stroke-linejoin="round" transform="matrix(-1 0 0 1 858.4 0)" d="M268.9,1789.7 C269.5,1793.08 271.18,1803.1 272.5,1810 C273.82,1816.9 275.12,1822.07 276.8,1831.1 C278.48,1840.13 281.35,1853.28 282.6,1864.2 C283.85,1875.12 284.02,1891.2 284.3,1896.6"/>
<path stroke="#111" stroke-width="2.6" fill="none" stroke-linejoin="round" d="M212.2,1789.7 C212.48,1792.45 212.65,1799.3 213.9,1806.2 C215.15,1813.1 218.05,1822.82 219.7,1831.1 C221.35,1839.38 223.03,1847.75 223.8,1855.9 C224.57,1864.05 224.23,1872.32 224.3,1880 C224.37,1887.68 224.22,1898.33 224.2,1902"/>
<path stroke="#111" stroke-width="2.6" fill="none" stroke-linejoin="round" transform="matrix(-1 0 0 1 858.4 0)" d="M212.2,1789.7 C212.48,1792.45 212.65,1799.3 213.9,1806.2 C215.15,1813.1 218.05,1822.82 219.7,1831.1 C221.35,1839.38 223.03,1847.75 223.8,1855.9 C224.57,1864.05 224.23,1872.32 224.3,1880 C224.37,1887.68 224.22,1898.33 224.2,1902"/>
<circle stroke="#111" stroke-width="2.6" fill="#fff" stroke-linejoin="round" cx="246.6" cy="1779.6" r="23.8"/>
<circle stroke="#111" stroke-width="2.6" fill="none" stroke-linejoin="round" cx="246.6" cy="1779.6" r="14.3"/>
<line x1="239.6" y1="1779.6" x2="253.6" y2="1779.6" stroke="#555" stroke-width="1.0"/>
<circle stroke="#111" stroke-width="2.6" fill="#fff" stroke-linejoin="round" cx="611.8" cy="1779.6" r="23.8"/>
<circle stroke="#111" stroke-width="2.6" fill="none" stroke-linejoin="round" cx="611.8" cy="1779.6" r="14.3"/>
<line x1="604.8" y1="1779.6" x2="618.8" y2="1779.6" stroke="#555" stroke-width="1.0"/>
<path stroke="#111" stroke-width="2.6" fill="none" stroke-linejoin="round" d="M326.9,1896.6 L326.9,1781 Q327,1774 334,1776 Q380,1808 429.2,1811.5 Q478.4,1808 524.4,1776 Q531.5,1774 531.5,1781 L531.5,1896.6"/>
<path stroke="#111" stroke-width="2.6" fill="none" stroke-linejoin="round" d="M339.3,2052 L339.3,1797 Q385,1820 429.2,1822.7 Q473.4,1820 519.1,1797 L519.1,2052"/>
<path stroke="#111" stroke-width="2.6" fill="none" stroke-linejoin="round" d="M268.5,2033.3 L268.5,1896.6 L339.3,1896.6 M268.5,2033.3 L339.3,2033.3 M300,2033.3 L300,2052"/>
<path stroke="#111" stroke-width="2.6" fill="none" stroke-linejoin="round" transform="matrix(-1 0 0 1 858.4 0)" d="M268.5,2033.3 L268.5,1896.6 L339.3,1896.6 M268.5,2033.3 L339.3,2033.3 M300,2033.3 L300,2052"/>
<path stroke="#111" stroke-width="2.6" fill="none" stroke-linejoin="round" d="M218,2011.3 L218,1902 L247,1902 L247,2011.3 Z M221.3,1909 L240.8,1909 L240.8,2004.3 L221.3,2004.3 Z M221.3,1994 L240.8,1994"/>
<path stroke="#111" stroke-width="2.6" fill="none" stroke-linejoin="round" transform="matrix(-1 0 0 1 858.4 0)" d="M218,2011.3 L218,1902 L247,1902 L247,2011.3 Z M221.3,1909 L240.8,1909 L240.8,2004.3 L221.3,2004.3 Z M221.3,1994 L240.8,1994"/>
<path stroke="#111" stroke-width="2.6" fill="none" stroke-linejoin="round" d="M218,2011.3 L218,2033.3 L268.5,2033.3 M228.4,2011.3 L228.4,2025 L268.5,2025 M218,2033.3 L228.4,2025"/>
<path stroke="#111" stroke-width="2.6" fill="none" stroke-linejoin="round" transform="matrix(-1 0 0 1 858.4 0)" d="M218,2011.3 L218,2033.3 L268.5,2033.3 M228.4,2011.3 L228.4,2025 L268.5,2025 M218,2033.3 L228.4,2025"/>
<path stroke="#111" stroke-width="2.6" fill="none" stroke-linejoin="round" d="M389.9,2276.8 L389.9,2062 Q389.9,2052 380,2052"/>
<path stroke="#111" stroke-width="2.6" fill="none" stroke-linejoin="round" transform="matrix(-1 0 0 1 858.4 0)" d="M389.9,2276.8 L389.9,2062 Q389.9,2052 380,2052"/>
<path stroke="#111" stroke-width="2.6" fill="none" stroke-linejoin="round" d="M321.5,2276.8 L321.5,2130.6 Q321.5,2118.2 334,2118.2 L356.7,2118.2 L356.7,2131.4 L334,2131.4 L334,2276.8"/>
<path stroke="#111" stroke-width="2.6" fill="none" stroke-linejoin="round" transform="matrix(-1 0 0 1 858.4 0)" d="M321.5,2276.8 L321.5,2130.6 Q321.5,2118.2 334,2118.2 L356.7,2118.2 L356.7,2131.4 L334,2131.4 L334,2276.8"/>
<path stroke="#111" stroke-width="2.6" fill="none" stroke-linejoin="round" d="M513.97,1677.69 A85,85 0 0 1 476.95,1741.82 L464.80,1720.79 A60.8,60.8 0 0 0 489.68,1677.69 Z"/>
<path stroke="#111" stroke-width="2.6" fill="none" stroke-linejoin="round" d="M466.22,1748.01 A85,85 0 0 1 392.18,1748.01 L404.32,1726.98 A60.8,60.8 0 0 0 454.08,1726.98 Z"/>
<path stroke="#111" stroke-width="2.6" fill="none" stroke-linejoin="round" d="M381.45,1741.82 A85,85 0 0 1 344.43,1677.69 L368.72,1677.69 A60.8,60.8 0 0 0 393.60,1720.79 Z"/>
<path stroke="#111" stroke-width="2.6" fill="none" stroke-linejoin="round" d="M344.43,1665.31 A85,85 0 0 1 381.45,1601.18 L393.60,1622.21 A60.8,60.8 0 0 0 368.72,1665.31 Z"/>
<path stroke="#111" stroke-width="2.6" fill="none" stroke-linejoin="round" d="M392.18,1594.99 A85,85 0 0 1 466.22,1594.99 L454.08,1616.02 A60.8,60.8 0 0 0 404.32,1616.02 Z"/>
<path stroke="#111" stroke-width="2.6" fill="none" stroke-linejoin="round" d="M476.95,1601.18 A85,85 0 0 1 513.97,1665.31 L489.68,1665.31 A60.8,60.8 0 0 0 464.80,1622.21 Z"/>
<circle stroke="#111" stroke-width="2.6" fill="none" stroke-linejoin="round" cx="429.2" cy="1671.5" r="50.6"/>
<circle stroke="#111" stroke-width="1.0" fill="none" cx="429.2" cy="1671.5" r="48.2"/>
<circle stroke="#111" stroke-width="2.2" fill="none" cx="429.2" cy="1671.5" r="45.9"/>
<line x1="429.2" y1="1249.6" x2="429.2" y2="2308" stroke="#555" stroke-width="1.3" stroke-dasharray="26.8 27.7"/>
<line x1="405" y1="1671.5" x2="453" y2="1671.5" stroke="#333" stroke-width="1.0"/>
<line x1="118.6" y1="1671.5" x2="378.6" y2="1671.5" stroke="#555" stroke-width="1.45"/>
<path d="M378.6,1671.5 L366.1,1674.2 L366.1,1668.8 Z" fill="#111"/>
<line x1="118.6" y1="1671.5" x2="118.6" y2="1753.5" stroke="#555" stroke-width="1.45"/>
<line x1="118.6" y1="1779.6" x2="232.3" y2="1779.6" stroke="#555" stroke-width="1.45"/>
<path d="M232.3,1779.6 L219.8,1782.3 L219.8,1776.9 Z" fill="#111"/>
<line x1="118.6" y1="1779.6" x2="118.6" y2="1866.8" stroke="#555" stroke-width="1.45"/>
<line x1="757.6" y1="1456.9" x2="757.6" y2="1779.6" stroke="#555" stroke-width="1.45"/>
<path d="M757.6,1456.9 L760.3,1469.4 L754.9,1469.4 Z" fill="#111"/>
<path d="M757.6,1779.6 L754.9,1767.1 L760.3,1767.1 Z" fill="#111"/>
<line x1="444" y1="1456.9" x2="775" y2="1456.9" stroke="#5a5a5a" stroke-width="1.4"/>
<line x1="612" y1="1779.6" x2="775" y2="1779.6" stroke="#5a5a5a" stroke-width="1.4"/>
<line x1="757.6" y1="1779.6" x2="757.6" y2="2276.8" stroke="#555" stroke-width="1.45"/>
<path d="M757.6,1779.6 L760.3,1792.1 L754.9,1792.1 Z" fill="#111"/>
<path d="M757.6,2276.8 L754.9,2264.3 L760.3,2264.3 Z" fill="#111"/>
<line x1="607.3" y1="2276.8" x2="855.7" y2="2276.8" stroke="#5a5a5a" stroke-width="1.4"/>
<line x1="839" y1="1298" x2="839" y2="2276.8" stroke="#555" stroke-width="1.45"/>
<path d="M839,1298 L841.7,1310.5 L836.3,1310.5 Z" fill="#111"/>
<path d="M839,2276.8 L836.3,2264.3 L841.7,2264.3 Z" fill="#111"/>
<line x1="607" y1="1298" x2="855.7" y2="1298" stroke="#5a5a5a" stroke-width="1.4"/>
<line x1="247" y1="2363.3" x2="611.8" y2="2363.3" stroke="#555" stroke-width="1.45"/>
<path d="M247,2363.3 L259.5,2360.6 L259.5,2366 Z" fill="#111"/>
<path d="M611.8,2363.3 L599.3,2366 L599.3,2360.6 Z" fill="#111"/>
<line x1="246.6" y1="1779.6" x2="246.6" y2="2383" stroke="#5a5a5a" stroke-width="1.4"/>
<line x1="611.8" y1="1779.6" x2="611.8" y2="2383" stroke="#5a5a5a" stroke-width="1.4"/>
<path stroke="#111" stroke-width="2.6" fill="none" stroke-linejoin="round" d="M1061.8,1533.1 L1534,1533.1 C1560,1533.1 1585,1546 1605.5,1572.2 L1662.8,1655 M1061.8,1552 L1534,1552 C1555,1552 1577,1563 1597,1589.1 L1639.4,1655 M1061.8,1533.1 L1061.8,1552"/>
<g transform="translate(1580 1500) scale(0.424431)">
<path stroke="#111" stroke-width="2.6" fill="none" stroke-linejoin="round" vector-effect="non-scaling-stroke" d="M1532,572 L1580,572 Q1640,576 1690,640 L1838,843 L1800,868 L1655,665 Q1622,620 1575,618 L1408,618"/>
<path stroke="#111" stroke-width="2.6" fill="none" stroke-linejoin="round" vector-effect="non-scaling-stroke" d="M660,620 L872,620 M1133,620 L1268,620"/>
<rect stroke="#111" stroke-width="2.6" fill="#fff" stroke-linejoin="round" vector-effect="non-scaling-stroke" x="138" y="430" width="142" height="47"/>
<path stroke="#111" stroke-width="2.6" fill="none" stroke-linejoin="round" vector-effect="non-scaling-stroke" d="M138,462 L280,462"/>
<rect stroke="#111" stroke-width="2.6" fill="#fff" stroke-linejoin="round" vector-effect="non-scaling-stroke" x="138" y="605" width="142" height="47"/>
<path stroke="#111" stroke-width="2.6" fill="none" stroke-linejoin="round" vector-effect="non-scaling-stroke" d="M138,622 L280,622"/>
<rect stroke="#111" stroke-width="2.6" fill="#fff" stroke-linejoin="round" vector-effect="non-scaling-stroke" x="1268" y="430" width="140" height="47"/>
<path stroke="#111" stroke-width="2.6" fill="none" stroke-linejoin="round" vector-effect="non-scaling-stroke" d="M1268,462 L1408,462"/>
<rect stroke="#111" stroke-width="2.6" fill="#fff" stroke-linejoin="round" vector-effect="non-scaling-stroke" x="1268" y="605" width="140" height="47"/>
<path stroke="#111" stroke-width="2.6" fill="none" stroke-linejoin="round" vector-effect="non-scaling-stroke" d="M1268,622 L1408,622"/>
<rect stroke="#111" stroke-width="2.6" fill="#fff" stroke-linejoin="round" vector-effect="non-scaling-stroke" x="398" y="432" width="262" height="45"/>
<rect stroke="#111" stroke-width="2.6" fill="#fff" stroke-linejoin="round" vector-effect="non-scaling-stroke" x="398" y="605" width="262" height="45"/>
<rect stroke="#111" stroke-width="2.6" fill="#fff" stroke-linejoin="round" vector-effect="non-scaling-stroke" x="872" y="432" width="261" height="45"/>
<rect stroke="#111" stroke-width="2.6" fill="#fff" stroke-linejoin="round" vector-effect="non-scaling-stroke" x="872" y="605" width="261" height="45"/>
<rect stroke="#111" stroke-width="2.6" fill="#fff" stroke-linejoin="round" vector-effect="non-scaling-stroke" x="18" y="477" width="1514" height="128"/>
<path stroke="#111" stroke-width="2.6" fill="none" stroke-linejoin="round" vector-effect="non-scaling-stroke" d="M18,517 L120,517 L120,477 M18,563 L120,563 L120,605 M1532,517 L1430,517 L1430,477 M1532,563 L1430,563 L1430,605"/>
<rect stroke="#111" stroke-width="2.6" fill="none" stroke-linejoin="round" vector-effect="non-scaling-stroke" x="333" y="530" width="62" height="22" rx="11"/>
<rect stroke="#111" stroke-width="2.6" fill="none" stroke-linejoin="round" vector-effect="non-scaling-stroke" x="1148" y="530" width="62" height="22" rx="11"/>
<rect stroke="#111" stroke-width="2.6" fill="none" stroke-linejoin="round" vector-effect="non-scaling-stroke" x="683" y="517" width="167" height="46"/>
<rect stroke="#111" stroke-width="2.6" fill="#fff" stroke-linejoin="round" vector-effect="non-scaling-stroke" x="48" y="365" width="320" height="65" rx="32"/>
<rect stroke="#111" stroke-width="2.6" fill="#fff" stroke-linejoin="round" vector-effect="non-scaling-stroke" x="48" y="652" width="320" height="65" rx="32"/>
<rect stroke="#111" stroke-width="2.6" fill="#fff" stroke-linejoin="round" vector-effect="non-scaling-stroke" x="1180" y="365" width="317" height="65" rx="32"/>
<rect stroke="#111" stroke-width="2.6" fill="#fff" stroke-linejoin="round" vector-effect="non-scaling-stroke" x="1180" y="652" width="317" height="65" rx="32"/>
</g>
<line x1="1588" y1="1601.9" x2="2229.4" y2="1601.9" stroke="#555" stroke-width="1.45"/>
<path d="M1588,1601.9 L1600.5,1599.2 L1600.5,1604.6 Z" fill="#111"/>
<path d="M2229.4,1601.9 L2216.9,1604.6 L2216.9,1599.2 Z" fill="#111"/>
<line x1="1588" y1="1580" x2="1588" y2="1682.8" stroke="#5a5a5a" stroke-width="1.4"/>
<line x1="2229.4" y1="1579.8" x2="2229.4" y2="1682.5" stroke="#5a5a5a" stroke-width="1.4"/>
<line x1="991.4" y1="1533.1" x2="991.4" y2="1868.3" stroke="#555" stroke-width="1.45"/>
<path d="M991.4,1533.1 L994.1,1545.6 L988.7,1545.6 Z" fill="#111"/>
<path d="M991.4,1868.3 L988.7,1855.8 L994.1,1855.8 Z" fill="#111"/>
<line x1="970.2" y1="1533.1" x2="1051.6" y2="1533.1" stroke="#5a5a5a" stroke-width="1.4"/>
<line x1="970.2" y1="1868.3" x2="1594.8" y2="1868.3" stroke="#5a5a5a" stroke-width="1.4"/>
<line x1="1522" y1="1655.4" x2="1522" y2="1804" stroke="#555" stroke-width="1.45"/>
<path d="M1522,1655.4 L1524.7,1667.9 L1519.3,1667.9 Z" fill="#111"/>
<path d="M1522,1804 L1519.3,1791.5 L1524.7,1791.5 Z" fill="#111"/>
<line x1="1501.5" y1="1655.4" x2="1594.8" y2="1655.4" stroke="#5a5a5a" stroke-width="1.4"/>
<line x1="1501.5" y1="1804" x2="1594.8" y2="1804" stroke="#5a5a5a" stroke-width="1.4"/>
<path stroke="#111" stroke-width="2.6" fill="none" stroke-linejoin="round" d="M1113.5,2153.4 L2320.2,2153.4 A42,42 0 0 1 2362.2,2195.4 L2362.2,2234.6 A42,42 0 0 1 2320.2,2276.6 L1113.5,2276.6 A51,49 0 0 1 1062.5,2227.6 L1062.5,2202.4 A51,49 0 0 1 1113.5,2153.4 Z"/>
<path stroke="#111" stroke-width="2.6" fill="none" stroke-linejoin="round" d="M2288.5,2153.4 A48,51 0 0 1 2336.5,2204.4 L2336.5,2225.6 A48,51 0 0 1 2288.5,2276.6"/>
<path stroke="#111" stroke-width="2.6" fill="none" stroke-linejoin="round" d="M1528.2,2153.4 L1528.2,2276.6 M1722.5,2153.4 L1722.5,2276.6 M2230.9,2153.4 L2230.9,2276.6"/>
<circle stroke="#111" stroke-width="2.6" fill="none" stroke-linejoin="round" cx="1119.8" cy="2215" r="32.2"/>
<circle stroke="#111" stroke-width="2.6" fill="none" stroke-linejoin="round" cx="1428.7" cy="2215" r="32.2"/>
<circle stroke="#111" stroke-width="2.6" fill="none" stroke-linejoin="round" cx="1907.8" cy="2215" r="32.2"/>
<ellipse stroke="#111" stroke-width="2.6" fill="none" stroke-linejoin="round" cx="1575.5" cy="2215" rx="20.8" ry="32"/>
<path stroke="#111" stroke-width="2.6" fill="none" stroke-linejoin="round" d="M1586.0,2187.5 Q1567.5,2215 1586.0,2242.5"/>
<ellipse stroke="#111" stroke-width="2.6" fill="none" stroke-linejoin="round" cx="2292.6" cy="2215" rx="20.8" ry="32"/>
<path stroke="#111" stroke-width="2.6" fill="none" stroke-linejoin="round" d="M2303.1,2187.5 Q2284.6,2215 2303.1,2242.5"/>
<circle stroke="#111" stroke-width="2.6" fill="none" stroke-linejoin="round" cx="1804.8" cy="2215.2" r="28.7"/>
<path stroke="#111" stroke-width="2.2" fill="none" stroke-linejoin="round" d="M1799.3999999999999,2204.1 Q1799.3999999999999,2198.7 1804.8,2198.7 Q1810.2,2198.7 1810.2,2204.1 L1810.2,2209.7999999999997 L1815.8999999999999,2209.7999999999997 Q1821.3,2209.7999999999997 1821.3,2215.2 Q1821.3,2220.6 1815.8999999999999,2220.6 L1810.2,2220.6 L1810.2,2226.2999999999997 Q1810.2,2231.7 1804.8,2231.7 Q1799.3999999999999,2231.7 1799.3999999999999,2226.2999999999997 L1799.3999999999999,2220.6 L1793.7,2220.6 Q1788.3,2220.6 1788.3,2215.2 Q1788.3,2209.7999999999997 1793.7,2209.7999999999997 L1799.3999999999999,2209.7999999999997 Z"/>
<circle stroke="#111" stroke-width="2.6" fill="none" stroke-linejoin="round" cx="2022.2" cy="2215.2" r="28.7"/>
<path stroke="#111" stroke-width="2.2" fill="none" stroke-linejoin="round" d="M2016.8,2204.1 Q2016.8,2198.7 2022.2,2198.7 Q2027.6000000000001,2198.7 2027.6000000000001,2204.1 L2027.6000000000001,2209.7999999999997 L2033.3,2209.7999999999997 Q2038.7,2209.7999999999997 2038.7,2215.2 Q2038.7,2220.6 2033.3,2220.6 L2027.6000000000001,2220.6 L2027.6000000000001,2226.2999999999997 Q2027.6000000000001,2231.7 2022.2,2231.7 Q2016.8,2231.7 2016.8,2226.2999999999997 L2016.8,2220.6 L2011.1000000000001,2220.6 Q2005.7,2220.6 2005.7,2215.2 Q2005.7,2209.7999999999997 2011.1000000000001,2209.7999999999997 L2016.8,2209.7999999999997 Z"/>
<g transform="translate(1560 1900) scale(0.434783)">
<path stroke="#111" stroke-width="2.6" fill="none" stroke-linejoin="round" vector-effect="non-scaling-stroke" d="M110,327 L80,327 Q62,327 62,310 L62,100 Q62,83 80,83 L1523,83 Q1540,83 1540,100 L1540,310 Q1540,327 1523,327 L1368,327"/>
<path stroke="#111" stroke-width="2.6" fill="none" stroke-linejoin="round" vector-effect="non-scaling-stroke" d="M380,103 L690,103 M915,103 L1240,103 M800,83 L800,580"/>
<path stroke="#111" stroke-width="2.6" fill="#fff" stroke-linejoin="round" vector-effect="non-scaling-stroke" d="M443,103 L443,250 Q443,268 460,268 L600,268 L600,500 Q600,522 622,522 L668,522 Q690,522 690,500 L690,103"/>
<rect stroke="#111" stroke-width="2.6" fill="none" stroke-linejoin="round" vector-effect="non-scaling-stroke" x="465" y="125" width="203" height="120" rx="12"/>
<path stroke="#111" stroke-width="2.6" fill="#fff" stroke-linejoin="round" vector-effect="non-scaling-stroke" d="M1162,103 L1162,250 Q1162,268 1145,268 L1005,268 L1005,500 Q1005,522 983,522 L937,522 Q915,522 915,500 L915,103"/>
<rect stroke="#111" stroke-width="2.6" fill="none" stroke-linejoin="round" vector-effect="non-scaling-stroke" x="937" y="125" width="203" height="120" rx="12"/>
<rect stroke="#111" stroke-width="2.6" fill="#fff" stroke-linejoin="round" vector-effect="non-scaling-stroke" x="235" y="327" width="185" height="118"/>
<path stroke="#111" stroke-width="2.6" fill="none" stroke-linejoin="round" vector-effect="non-scaling-stroke" d="M262,445 L262,513 L408,513 Q420,513 420,525 L420,580"/>
<rect stroke="#111" stroke-width="2.6" fill="#fff" stroke-linejoin="round" vector-effect="non-scaling-stroke" x="1183" y="327" width="185" height="118"/>
<path stroke="#111" stroke-width="2.6" fill="none" stroke-linejoin="round" vector-effect="non-scaling-stroke" d="M1342,445 L1342,513 L1195,513 Q1183,513 1183,525 L1183,580"/>
<circle stroke="#111" stroke-width="2.6" fill="#fff" stroke-linejoin="round" vector-effect="non-scaling-stroke" cx="250" cy="197" r="156.5"/>
<circle stroke="#111" stroke-width="2.6" fill="none" stroke-linejoin="round" vector-effect="non-scaling-stroke" cx="250" cy="197" r="63.5"/>
<circle stroke="#111" stroke-width="2.6" fill="none" stroke-linejoin="round" vector-effect="non-scaling-stroke" cx="250" cy="197" r="41"/>
<circle stroke="#111" stroke-width="2.6" fill="none" stroke-linejoin="round" vector-effect="non-scaling-stroke" cx="250" cy="197" r="25"/>
<circle stroke="#111" stroke-width="2.6" fill="#fff" stroke-linejoin="round" vector-effect="non-scaling-stroke" cx="1355" cy="197" r="156.5"/>
<circle stroke="#111" stroke-width="2.6" fill="none" stroke-linejoin="round" vector-effect="non-scaling-stroke" cx="1355" cy="197" r="63.5"/>
<circle stroke="#111" stroke-width="2.6" fill="none" stroke-linejoin="round" vector-effect="non-scaling-stroke" cx="1355" cy="197" r="41"/>
<circle stroke="#111" stroke-width="2.6" fill="none" stroke-linejoin="round" vector-effect="non-scaling-stroke" cx="1355" cy="197" r="25"/>
</g>
<line x1="991.2" y1="2153.5" x2="991.2" y2="2277" stroke="#555" stroke-width="1.45"/>
<path d="M991.2,2153.5 L993.9,2166 L988.5,2166 Z" fill="#111"/>
<path d="M991.2,2277 L988.5,2264.5 L993.9,2264.5 Z" fill="#111"/>
<line x1="971" y1="2153.5" x2="1062.5" y2="2153.5" stroke="#5a5a5a" stroke-width="1.4"/>
<line x1="971" y1="2277" x2="1062.5" y2="2277" stroke="#5a5a5a" stroke-width="1.4"/>
<line x1="1062.5" y1="2363" x2="2362.2" y2="2363" stroke="#555" stroke-width="1.45"/>
<path d="M1062.5,2363 L1075,2360.3 L1075,2365.7 Z" fill="#111"/>
<path d="M2362.2,2363 L2349.7,2365.7 L2349.7,2360.3 Z" fill="#111"/>
<line x1="1062.5" y1="2292" x2="1062.5" y2="2385.5" stroke="#5a5a5a" stroke-width="1.4"/>
<line x1="2362.2" y1="2293.5" x2="2362.2" y2="2384.8" stroke="#5a5a5a" stroke-width="1.4"/>
<g transform="translate(1840 100) scale(0.289855)">
<path fill="#dadada" d="M773,730 A380,380 0 1 1 1385,345 A370,370 0 1 0 773,730 Z"/>
<path fill="#dadada" d="M783,385 Q950,285 1250,253 Q1120,480 990,585 Q910,645 830,655 Q960,560 1083,340 Q930,342 783,385 Z"/>
</g>
<text transform="translate(0 402) skewX(-9) translate(0 -402)" x="1880" y="402" font-family="Liberation Sans, sans-serif" font-weight="bold" font-style="italic" font-size="88" textLength="467" lengthAdjust="spacingAndGlyphs" fill="#dadada" stroke="#dadada" stroke-width="6" stroke-linejoin="round">arlight</text>
<g font-family="Liberation Sans, sans-serif" style="paint-order:normal">
<text x="113.00" y="185.55" font-size="98.98" textLength="845.26" lengthAdjust="spacingAndGlyphs" fill="#333" stroke="#fff" stroke-width="3.1">КАРНИЗ ДЛЯ ШТОР</text>
<text x="112.00" y="295.55" font-size="98.98" textLength="985.20" lengthAdjust="spacingAndGlyphs" fill="#333" stroke="#fff" stroke-width="3.1">С ЭЛЕКТРОПРИВОДОМ</text>
<text x="112.00" y="405.55" font-size="98.98" textLength="958.13" lengthAdjust="spacingAndGlyphs" fill="#333" stroke="#fff" stroke-width="3.1">СЕРИИ CNK-M1-TY-RF</text>
<text x="247.00" y="568.10" font-size="55.52" textLength="217.42" lengthAdjust="spacingAndGlyphs" fill="#333" stroke="#fff" stroke-width="2.2">БЕГУНКИ</text>
<text x="755.00" y="567.90" font-size="55.23" textLength="259.20" lengthAdjust="spacingAndGlyphs" fill="#333" stroke="#fff" stroke-width="2.2">ФИКСАТОР</text>
<text x="1198.00" y="569.40" font-size="55.96" textLength="416.20" lengthAdjust="spacingAndGlyphs" fill="#333" stroke="#fff" stroke-width="2.2">НАПРАВЛЯЮЩАЯ</text>
<text x="1955.00" y="568.80" font-size="55.09" textLength="306.32" lengthAdjust="spacingAndGlyphs" fill="#333" stroke="#fff" stroke-width="2.2">КРОНШТЕЙН</text>
<text x="811.00" y="1029.80" font-size="55.09" textLength="197.31" lengthAdjust="spacingAndGlyphs" fill="#333" stroke="#fff" stroke-width="2.2">РЕМЕНЬ</text>
<text x="1228.00" y="1033.40" font-size="55.23" textLength="358.13" lengthAdjust="spacingAndGlyphs" fill="#333" stroke="#fff" stroke-width="2.2">СОЕДИНИТЕЛЬ</text>
<text x="346.00" y="1242.00" font-size="55.67" textLength="149.56" lengthAdjust="spacingAndGlyphs" fill="#333" stroke="#fff" stroke-width="2.2">ШКИВ</text>
<text x="1058.00" y="1638.40" font-size="56.25" textLength="429.22" lengthAdjust="spacingAndGlyphs" fill="#333" stroke="#fff" stroke-width="2.2">НАПРАВЛЯЮЩИЙ</text>
<text x="1058.00" y="1698.60" font-size="54.36" textLength="216.22" lengthAdjust="spacingAndGlyphs" fill="#333" stroke="#fff" stroke-width="2.2">БЕГУНОК</text>
<text x="1059.00" y="1757.05" font-size="44.62" textLength="195.29" lengthAdjust="spacingAndGlyphs" fill="#333" stroke="#fff" stroke-width="0.9">(в сборе)</text>
<text x="245.00" y="625.40" font-size="35.03" textLength="35.68" lengthAdjust="spacingAndGlyphs" fill="#1a1a1a" stroke="#fff" stroke-width="0.8">15</text>
<text x="418.00" y="625.40" font-size="35.03" textLength="34.66" lengthAdjust="spacingAndGlyphs" fill="#1a1a1a" stroke="#fff" stroke-width="0.8">17</text>
<text x="784.00" y="624.40" font-size="27.91" textLength="31.74" lengthAdjust="spacingAndGlyphs" fill="#1a1a1a" stroke="#fff" stroke-width="0.8">15</text>
<text x="968.00" y="624.40" font-size="27.91" textLength="28.63" lengthAdjust="spacingAndGlyphs" fill="#1a1a1a" stroke="#fff" stroke-width="0.8">15</text>
<text x="1395.00" y="627.10" font-size="34.16" textLength="35.31" lengthAdjust="spacingAndGlyphs" fill="#1a1a1a" stroke="#fff" stroke-width="0.8">34</text>
<text x="1402.00" y="843.40" font-size="32.12" textLength="17.59" lengthAdjust="spacingAndGlyphs" fill="#1a1a1a" stroke="#fff" stroke-width="0.8">8</text>
<text x="1815.00" y="621.40" font-size="33.14" textLength="34.66" lengthAdjust="spacingAndGlyphs" fill="#1a1a1a" stroke="#fff" stroke-width="0.8">10</text>
<text x="2091.00" y="622.40" font-size="33.14" textLength="36.30" lengthAdjust="spacingAndGlyphs" fill="#1a1a1a" stroke="#fff" stroke-width="0.8">35</text>
<text x="1396.00" y="1387.40" font-size="33.14" textLength="35.46" lengthAdjust="spacingAndGlyphs" fill="#1a1a1a" stroke="#fff" stroke-width="0.8">35</text>
<text x="400.00" y="2351.40" font-size="34.59" textLength="61.18" lengthAdjust="spacingAndGlyphs" fill="#1a1a1a" stroke="#fff" stroke-width="0.8">36.5</text>
<text x="1914.00" y="1592.90" font-size="33.87" textLength="37.51" lengthAdjust="spacingAndGlyphs" fill="#1a1a1a" stroke="#fff" stroke-width="0.8">63</text>
<text x="1662.00" y="2353.20" font-size="33.72" textLength="50.31" lengthAdjust="spacingAndGlyphs" fill="#1a1a1a" stroke="#fff" stroke-width="0.8">130</text>
<text transform="translate(139.40 854.00) rotate(-90)" x="0" y="0" font-size="37.50" textLength="30.28" lengthAdjust="spacingAndGlyphs" fill="#1a1a1a" stroke="#fff" stroke-width="0.8">41</text>
<text transform="translate(548.40 781.00) rotate(-90)" x="0" y="0" font-size="37.50" textLength="61.33" lengthAdjust="spacingAndGlyphs" fill="#1a1a1a" stroke="#fff" stroke-width="0.8">13.4</text>
<text transform="translate(652.40 829.00) rotate(-90)" x="0" y="0" font-size="32.56" textLength="29.30" lengthAdjust="spacingAndGlyphs" fill="#1a1a1a" stroke="#fff" stroke-width="0.8">29</text>
<text transform="translate(1180.40 824.00) rotate(-90)" x="0" y="0" font-size="34.59" textLength="60.33" lengthAdjust="spacingAndGlyphs" fill="#1a1a1a" stroke="#fff" stroke-width="0.8">21.9</text>
<text transform="translate(1642.90 765.00) rotate(-90)" x="0" y="0" font-size="36.77" textLength="43.49" lengthAdjust="spacingAndGlyphs" fill="#1a1a1a" stroke="#fff" stroke-width="0.8">1.6</text>
<text transform="translate(2352.40 1016.00) rotate(-90)" x="0" y="0" font-size="33.43" textLength="37.59" lengthAdjust="spacingAndGlyphs" fill="#1a1a1a" stroke="#fff" stroke-width="0.8">62</text>
<text transform="translate(742.40 1162.00) rotate(-90)" x="0" y="0" font-size="35.61" textLength="60.44" lengthAdjust="spacingAndGlyphs" fill="#1a1a1a" stroke="#fff" stroke-width="0.8">10.5</text>
<text transform="translate(1188.10 1221.00) rotate(-90)" x="0" y="0" font-size="36.48" textLength="35.47" lengthAdjust="spacingAndGlyphs" fill="#1a1a1a" stroke="#fff" stroke-width="0.8">27</text>
<text transform="translate(746.40 1650.00) rotate(-90)" x="0" y="0" font-size="40.41" textLength="63.23" lengthAdjust="spacingAndGlyphs" fill="#1a1a1a" stroke="#fff" stroke-width="0.8">32.5</text>
<text transform="translate(148.00 1756.00) rotate(-90)" x="0" y="0" font-size="34.01" textLength="75.26" lengthAdjust="spacingAndGlyphs" fill="#1a1a1a" stroke="#fff" stroke-width="0.8">Ø9.2</text>
<text transform="translate(148.00 1868.00) rotate(-90)" x="0" y="0" font-size="37.21" textLength="75.26" lengthAdjust="spacingAndGlyphs" fill="#1a1a1a" stroke="#fff" stroke-width="0.8">Ø2.2</text>
<text transform="translate(744.40 2063.00) rotate(-90)" x="0" y="0" font-size="37.50" textLength="63.16" lengthAdjust="spacingAndGlyphs" fill="#1a1a1a" stroke="#fff" stroke-width="0.8">49.9</text>
<text transform="translate(827.10 1822.00) rotate(-90)" x="0" y="0" font-size="37.21" textLength="58.26" lengthAdjust="spacingAndGlyphs" fill="#1a1a1a" stroke="#fff" stroke-width="0.8">98.6</text>
<text transform="translate(980.90 1710.00) rotate(-90)" x="0" y="0" font-size="30.96" textLength="36.34" lengthAdjust="spacingAndGlyphs" fill="#1a1a1a" stroke="#fff" stroke-width="0.8">34</text>
<text transform="translate(1511.10 1740.00) rotate(-90)" x="0" y="0" font-size="34.45" textLength="34.56" lengthAdjust="spacingAndGlyphs" fill="#1a1a1a" stroke="#fff" stroke-width="0.8">15</text>
<text transform="translate(978.40 2231.00) rotate(-90)" x="0" y="0" font-size="37.50" textLength="34.65" lengthAdjust="spacingAndGlyphs" fill="#1a1a1a" stroke="#fff" stroke-width="0.8">13</text>
</g>
</svg></body></html>
